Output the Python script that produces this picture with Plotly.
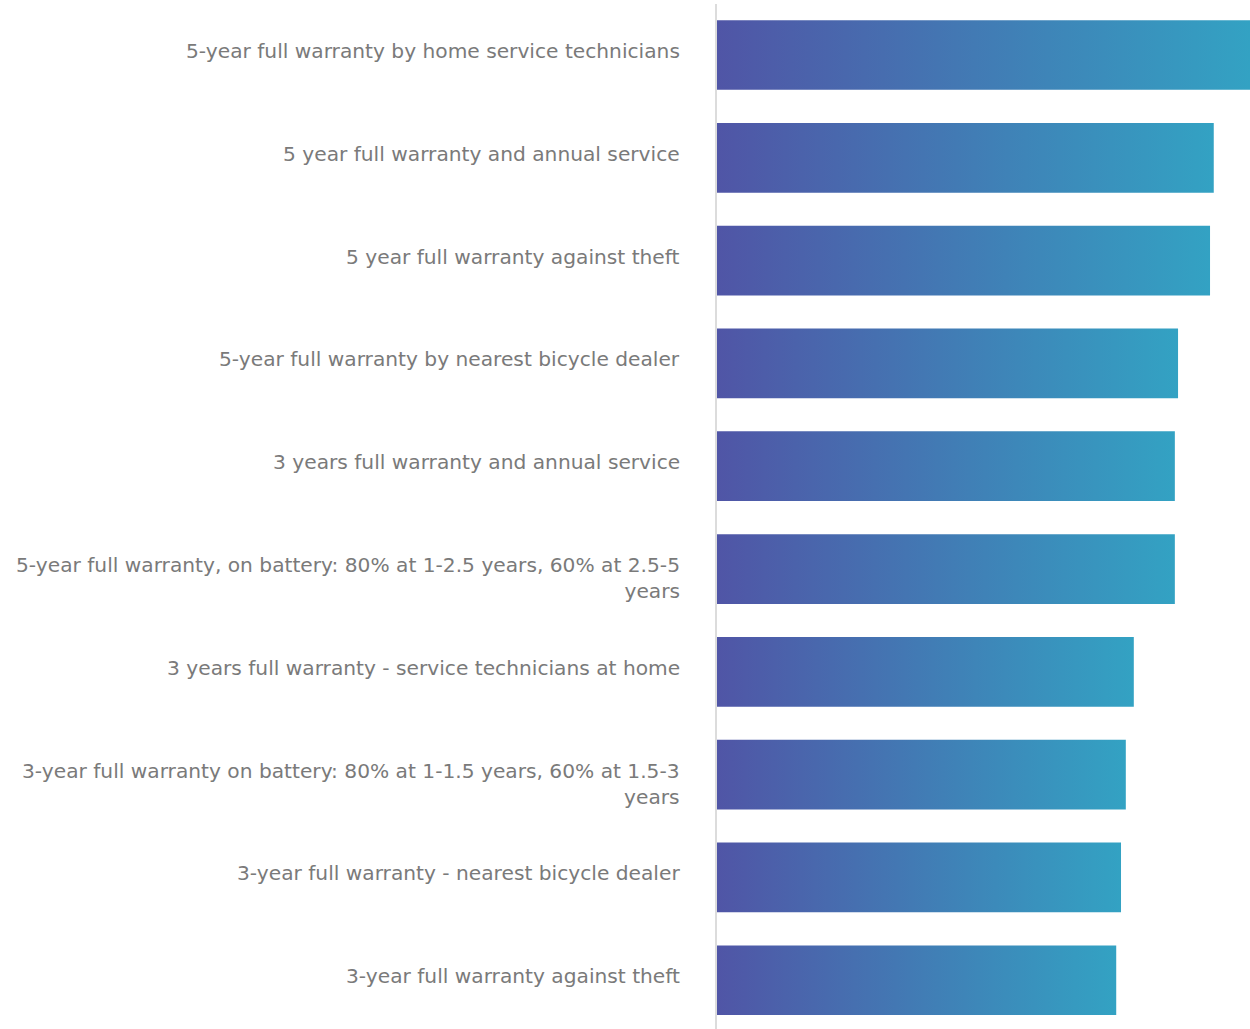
import plotly.graph_objects as go

labels = [
    "5-year full warranty by home service technicians",
    "5 year full warranty and annual service",
    "5 year full warranty against theft",
    "5-year full warranty by nearest bicycle dealer",
    "3 years full warranty and annual service",
    "5-year full warranty, on battery: 80% at 1-2.5 years, 60% at 2.5-5<br>years",
    "3 years full warranty - service technicians at home",
    "3-year full warranty on battery: 80% at 1-1.5 years, 60% at 1.5-3<br>years",
    "3-year full warranty - nearest bicycle dealer",
    "3-year full warranty against theft",
]
values = [100.0, 93.2, 92.5, 86.5, 85.9, 85.9, 78.2, 76.7, 75.8, 74.9]

color_start = "#5055A6"
color_end = "#33A2C3"
bar_half = 0.339
font_size = 20.2
line_h = 26.5

fig = go.Figure()
for i, (lab, v) in enumerate(zip(labels, values)):
    fig.add_trace(go.Scatter(
        x=[0, v, v, 0, 0],
        y=[i - bar_half, i - bar_half, i + bar_half, i + bar_half, i - bar_half],
        mode="lines",
        line=dict(width=0),
        fill="toself",
        fillgradient=dict(type="horizontal",
                          colorscale=[[0, color_start], [1, color_end]]),
        name=lab.replace("<br>", " "),
        hoverinfo="name",
        showlegend=False,
    ))
    n_lines = lab.count("<br>") + 1
    fig.add_annotation(
        x=0, xref="paper", y=i, yref="y",
        text=lab, showarrow=False,
        xanchor="right", yanchor="middle", align="right",
        xshift=-35, yshift=4 - line_h * (n_lines - 1) / 2,
        font=dict(family="DejaVu Sans", size=font_size, color="#7a7a7a"),
    )

fig.update_layout(
    width=1250, height=1029,
    margin=dict(l=717, r=0, t=4, b=0, pad=0),
    paper_bgcolor="white", plot_bgcolor="white",
    font=dict(family="DejaVu Sans", size=font_size, color="#7a7a7a"),
    xaxis=dict(visible=False, range=[0, 100], fixedrange=True),
    yaxis=dict(
        range=[9.474, -0.496],
        showticklabels=False,
        ticks="",
        showgrid=False, zeroline=False,
        showline=True, linecolor="#dcdcdc", linewidth=2,
        fixedrange=True,
    ),
)

fig.write_html("out.html", config={"displayModeBar": False},
               post_script="document.body.style.margin='0';")
